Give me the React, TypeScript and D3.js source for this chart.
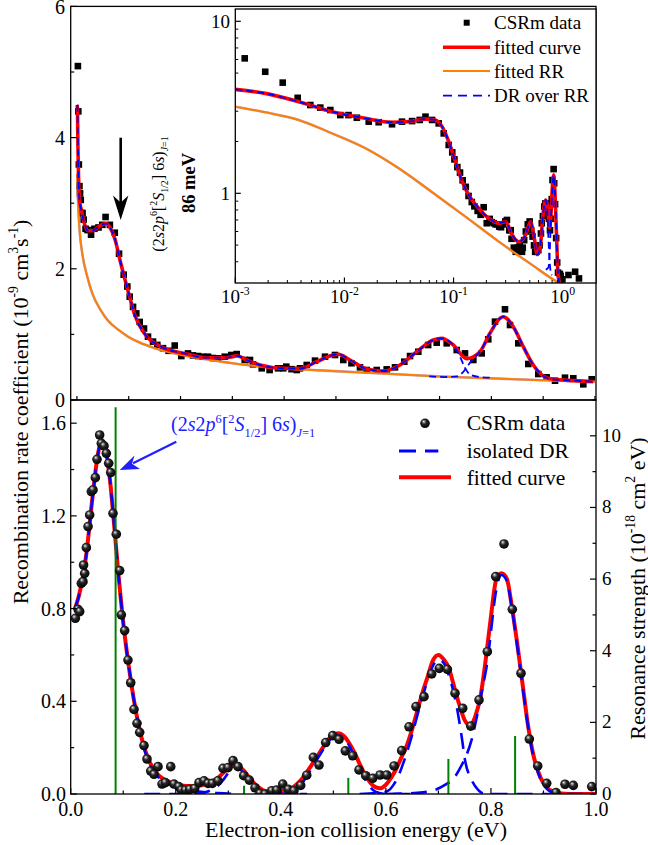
import React from "react";
import * as d3 from "d3";

type P = [number, number];

const FONT = "'Liberation Serif', 'Times New Roman', serif";

// ---------- Top panel / inset data (rate coefficient, 1e-9 cm^3 s^-1) ----------
const csrmTop: P[] = [
  [0.00122, 6.09], [0.00188, 5.09], [0.00272, 4.4], [0.00373, 3.59], [0.00487, 3.26], [0.00601, 3.15],
  [0.00743, 3.05], [0.00917, 2.85], [0.0109, 2.85], [0.013, 2.75], [0.0167, 2.61], [0.0206, 2.59],
  [0.0273, 2.52], [0.0337, 2.61], [0.0417, 2.63], [0.049, 2.67], [0.0553, 2.79], [0.0636, 2.67],
  [0.0731, 2.55], [0.0813, 2.23], [0.0903, 1.91], [0.0973, 1.73], [0.1019, 1.575], [0.1083, 1.42],
  [0.1146, 1.32], [0.1212, 1.19], [0.1295, 1.09], [0.1372, 0.965], [0.1469, 0.89], [0.1552, 0.84],
  [0.1662, 0.79], [0.177, 0.75], [0.1888, 0.83], [0.2015, 0.67], [0.2144, 0.71], [0.224, 0.68],
  [0.2337, 0.67], [0.243, 0.66], [0.253, 0.66], [0.2623, 0.64], [0.2723, 0.635], [0.2853, 0.66],
  [0.298, 0.686], [0.3084, 0.7], [0.3239, 0.61], [0.3341, 0.61], [0.3399, 0.544], [0.3567, 0.483],
  [0.372, 0.457], [0.3882, 0.483], [0.3984, 0.483], [0.4042, 0.508], [0.4143, 0.47], [0.4243, 0.457],
  [0.4306, 0.483], [0.4436, 0.534], [0.4596, 0.6], [0.4789, 0.66], [0.4982, 0.686], [0.5142, 0.61],
  [0.53, 0.56], [0.5464, 0.498], [0.5593, 0.457], [0.5787, 0.457], [0.598, 0.467], [0.614, 0.498],
  [0.632, 0.584], [0.643, 0.67], [0.659, 0.736], [0.678, 0.838], [0.6945, 0.874], [0.7138, 0.864],
  [0.7331, 0.762], [0.7491, 0.711], [0.7652, 0.61], [0.7813, 0.711], [0.794, 0.925], [0.807, 1.194],
  [0.8263, 1.383], [0.836, 1.143], [0.852, 0.864], [0.8713, 0.549], [0.8906, 0.396], [0.9067, 0.346],
  [0.9229, 0.294], [0.9421, 0.34], [0.9582, 0.331], [0.9775, 0.239], [0.9937, 0.316],
  [1.13, 0.335], [1.3, 0.35], [1.41, 0.32],
];

const fittedTop: P[] = [
  [0.0003, 4.5], [0.001, 4.45], [0.002, 3.85], [0.003, 3.45], [0.005, 3.05], [0.009, 2.88], [0.0156, 2.66],
  [0.0214, 2.58], [0.03, 2.58], [0.04, 2.63], [0.05, 2.68], [0.0567, 2.69], [0.0639, 2.63], [0.0735, 2.45],
  [0.0832, 2.13], [0.094, 1.8], [0.1025, 1.55], [0.1115, 1.3], [0.1308, 1.01], [0.1629, 0.81], [0.208, 0.71],
  [0.2505, 0.645], [0.2891, 0.645], [0.3084, 0.675], [0.3277, 0.61], [0.3534, 0.534], [0.3984, 0.483],
  [0.4306, 0.48], [0.4629, 0.584], [0.495, 0.686], [0.5046, 0.697], [0.5271, 0.61], [0.5594, 0.472],
  [0.5914, 0.442], [0.6236, 0.534], [0.6559, 0.736], [0.688, 0.915], [0.7042, 0.94], [0.7265, 0.838],
  [0.7523, 0.63], [0.778, 0.736], [0.7973, 1.017], [0.8167, 1.245], [0.823, 1.27], [0.8423, 1.117],
  [0.8616, 0.813], [0.881, 0.534], [0.9003, 0.366], [0.9196, 0.315], [0.96, 0.295], [0.9968, 0.279],
];

const drOverRrTopA: P[] = [
  ...fittedTop.filter((d) => d[0] <= 0.7265),
  [0.7395, 0.66], [0.7491, 0.49], [0.7587, 0.39], [0.778, 0.35], [0.8, 0.34],
];
const drOverRrTopB: P[] = [
  [0.68, 0.36], [0.71, 0.35], [0.7331, 0.36], [0.7459, 0.43], [0.7555, 0.534], [0.7652, 0.635], [0.778, 0.736],
  ...fittedTop.filter((d) => d[0] > 0.79),
];

const fittedRrTop: P[] = [
  [0.0005, 3.45], [0.002, 3.05], [0.005, 2.6], [0.01, 2.25], [0.02, 1.88], [0.03, 1.62], [0.045, 1.38],
  [0.06, 1.21], [0.08, 1.07], [0.1, 0.96], [0.12, 0.88], [0.15, 0.79], [0.2, 0.69], [0.25, 0.62],
  [0.3, 0.56], [0.4, 0.48], [0.5, 0.44], [0.6, 0.4], [0.7, 0.36], [0.8, 0.33], [0.9, 0.3], [1.0, 0.28],
];

// inset curves (log-log)
const fittedInset: P[] = [
  [0.001, 4.02], [0.00188, 3.81], [0.00381, 3.41], [0.0077, 2.98], [0.0155, 2.73], [0.0273, 2.59],
  [0.0388, 2.61], [0.0553, 2.7], [0.068, 2.67], [0.0785, 2.44], [0.0903, 2.0], [0.104, 1.53], [0.12, 1.17],
  [0.138, 0.977], [0.17, 0.818], [0.21, 0.716], [0.261, 0.67], [0.3, 0.684], [0.344, 0.572], [0.397, 0.523],
  [0.457, 0.572], [0.506, 0.684], [0.544, 0.572], [0.585, 0.44], [0.626, 0.5], [0.66, 0.75], [0.7, 0.914],
  [0.73, 0.82], [0.755, 0.63], [0.78, 0.74], [0.8, 1.02], [0.828, 1.28], [0.85, 1.0], [0.88, 0.55],
  [0.9, 0.37], [0.92, 0.315], [0.96, 0.29], [1.0, 0.28],
];
const drOverRrInsetA: P[] = [
  ...fittedInset.filter((d) => d[0] <= 0.7),
  [0.72, 0.82], [0.74, 0.55], [0.76, 0.4], [0.78, 0.345], [0.8, 0.335],
];
const drOverRrInsetB: P[] = [
  [0.7, 0.36], [0.74, 0.37], [0.76, 0.45], [0.78, 0.7], [0.8, 1.0], [0.828, 1.27], [0.85, 1.0], [0.88, 0.55],
  [0.9, 0.37], [0.92, 0.315], [0.96, 0.29],
];
const fittedRrInset: P[] = [
  [0.001, 3.19], [0.00188, 2.96], [0.00381, 2.67], [0.0077, 2.23], [0.0155, 1.83], [0.0313, 1.4],
  [0.063, 1.02], [0.129, 0.731], [0.261, 0.523], [0.526, 0.383], [0.89, 0.306], [1.0, 0.295],
];

// ---------- Bottom panel ----------
const csrmBottom: P[] = [
  [0.0088, 0.758], [0.0139, 0.797], [0.0171, 0.787], [0.0202, 0.909], [0.0234, 0.916], [0.0266, 0.952],
  [0.0245, 0.988], [0.0298, 1.063], [0.033, 1.154], [0.0361, 1.204], [0.0393, 1.305], [0.0425, 1.312],
  [0.0469, 1.365], [0.0501, 1.444], [0.0551, 1.549], [0.0583, 1.513], [0.0634, 1.502], [0.0678, 1.47],
  [0.0723, 1.427], [0.0761, 1.387], [0.0805, 1.211], [0.0868, 1.121], [0.0932, 0.964], [0.0964, 0.773],
  [0.1027, 0.705], [0.109, 0.578], [0.1142, 0.48], [0.1205, 0.365], [0.1262, 0.305], [0.1313, 0.266],
  [0.1395, 0.209], [0.1452, 0.151], [0.1523, 0.099], [0.1586, 0.085], [0.1662, 0.118], [0.1738, 0.043],
  [0.1801, 0.049], [0.1904, 0.118], [0.1967, 0.043], [0.2056, 0.032], [0.2106, 0.017], [0.2182, 0.017],
  [0.2265, 0.02], [0.236, 0.024], [0.2442, 0.049], [0.2538, 0.057], [0.2614, 0.046], [0.2696, 0.046],
  [0.2804, 0.057], [0.2899, 0.111], [0.2995, 0.114], [0.309, 0.144], [0.3185, 0.118], [0.3293, 0.079],
  [0.34, 0.06], [0.3508, 0.027], [0.3604, 0.003], [0.37, 0.0], [0.3826, 0.014], [0.392, 0.017],
  [0.4036, 0.043], [0.4143, 0.02], [0.425, 0.014], [0.4378, 0.037], [0.4493, 0.081], [0.4619, 0.158],
  [0.4727, 0.125], [0.4854, 0.222], [0.4988, 0.252], [0.5108, 0.236], [0.5228, 0.186], [0.5368, 0.165],
  [0.5488, 0.104], [0.5616, 0.079], [0.5749, 0.068], [0.5888, 0.082], [0.6016, 0.082], [0.6155, 0.121],
  [0.63, 0.187], [0.644, 0.29], [0.6573, 0.377], [0.6726, 0.42], [0.6872, 0.518], [0.7017, 0.542],
  [0.717, 0.538], [0.7316, 0.435], [0.7462, 0.37], [0.7615, 0.293], [0.7773, 0.406], [0.7931, 0.614],
  [0.8091, 0.938], [0.8249, 1.079], [0.8407, 0.797], [0.8572, 0.521], [0.8731, 0.237], [0.889, 0.121],
  [0.9061, 0.046], [0.9238, 0.006], [0.941, 0.042], [0.9568, 0.037], [0.9918, 0.032],
];

const fittedBottom: P[] = [
  [0.008, 0.8], [0.015, 0.85], [0.02, 0.9], [0.025, 0.96], [0.03, 1.04], [0.035, 1.14], [0.04, 1.25],
  [0.045, 1.35], [0.05, 1.44], [0.055, 1.5], [0.06, 1.525], [0.065, 1.5], [0.07, 1.44], [0.075, 1.35],
  [0.08, 1.23], [0.085, 1.1], [0.09, 0.97], [0.095, 0.85], [0.1, 0.74], [0.11, 0.56], [0.12, 0.41],
  [0.13, 0.29], [0.14, 0.2], [0.15, 0.14], [0.16, 0.1], [0.17, 0.075], [0.18, 0.06], [0.19, 0.05],
  [0.2, 0.042], [0.22, 0.035], [0.24, 0.035], [0.26, 0.045], [0.28, 0.07], [0.3, 0.11], [0.31, 0.122],
  [0.32, 0.118], [0.33, 0.1], [0.34, 0.07], [0.35, 0.045], [0.36, 0.025], [0.37, 0.012], [0.38, 0.008],
  [0.39, 0.008], [0.4, 0.012], [0.42, 0.025], [0.44, 0.065], [0.46, 0.13], [0.48, 0.2], [0.49, 0.235],
  [0.5, 0.255], [0.51, 0.262], [0.52, 0.25], [0.53, 0.22], [0.54, 0.18], [0.55, 0.13], [0.56, 0.085],
  [0.57, 0.05], [0.58, 0.03], [0.59, 0.025], [0.6, 0.04], [0.61, 0.07], [0.62, 0.11], [0.63, 0.16],
  [0.64, 0.21], [0.65, 0.28], [0.66, 0.36], [0.67, 0.44], [0.68, 0.51], [0.69, 0.578], [0.7, 0.6],
  [0.71, 0.581], [0.72, 0.542], [0.73, 0.463], [0.74, 0.384], [0.75, 0.319], [0.76, 0.297], [0.77, 0.334],
  [0.78, 0.42], [0.79, 0.578], [0.8, 0.765], [0.81, 0.924], [0.82, 0.952], [0.83, 0.93], [0.84, 0.806],
  [0.85, 0.65], [0.86, 0.478], [0.87, 0.305], [0.88, 0.176], [0.89, 0.096], [0.9, 0.046], [0.91, 0.02],
  [0.92, 0.01], [0.93, 0.003], [0.95, 0.0], [1.0, 0.0],
];

const isolatedDr1: P[] = [
  ...fittedBottom.filter((d) => d[0] <= 0.13),
  [0.14, 0.195], [0.15, 0.13], [0.17, 0.065], [0.2, 0.03], [0.24, 0.012], [0.28, 0.004], [0.32, 0.0],
];
const isolatedDr2: P[] = [
  [0.14, 0.0], [0.22, 0.0], [0.25, 0.005], [0.27, 0.02], [0.28, 0.035], [0.29, 0.06], [0.3, 0.09],
  [0.31, 0.11], [0.32, 0.108], [0.33, 0.09], [0.34, 0.06], [0.35, 0.035], [0.36, 0.015], [0.37, 0.005],
  [0.39, 0.0], [0.45, 0.0],
];
const isolatedDr3: P[] = [
  [0.35, 0.0], [0.4, 0.0], [0.42, 0.01], [0.44, 0.045], [0.46, 0.115], [0.48, 0.19], [0.49, 0.225],
  [0.5, 0.245], [0.51, 0.252], [0.52, 0.24], [0.53, 0.21], [0.54, 0.16], [0.55, 0.11], [0.56, 0.065],
  [0.57, 0.03], [0.58, 0.01], [0.6, 0.0], [0.65, 0.0],
];
const isolatedDr4: P[] = [
  [0.55, 0.0], [0.6, 0.01], [0.62, 0.06], [0.64, 0.18], [0.65, 0.255], [0.66, 0.34], [0.67, 0.42],
  [0.68, 0.495], [0.69, 0.555], [0.7, 0.58], [0.71, 0.565], [0.72, 0.51], [0.7348, 0.377], [0.7443, 0.247],
  [0.7506, 0.147], [0.7633, 0.06], [0.776, 0.017], [0.79, 0.0], [0.93, 0.0],
];
const isolatedDr5: P[] = [
  [0.6, 0.0], [0.66, 0.005], [0.69, 0.015], [0.7125, 0.039], [0.73, 0.07], [0.741, 0.111], [0.7538, 0.17],
  [0.7633, 0.235], [0.7729, 0.33], [0.7824, 0.44], [0.795, 0.6], [0.8, 0.7], [0.81, 0.88], [0.82, 0.945],
  [0.83, 0.92], [0.84, 0.8], [0.85, 0.64], [0.86, 0.47], [0.87, 0.3], [0.88, 0.17], [0.89, 0.09],
  [0.9, 0.04], [0.91, 0.015], [0.92, 0.005], [0.94, 0.0], [1.0, 0.0],
];
const isolatedDr: P[][] = [isolatedDr1, isolatedDr2, isolatedDr3, isolatedDr4, isolatedDr5];

// resonance strengths (1e-18 cm^2 eV)
const resEnergy = [0.0855, 0.33, 0.5285, 0.719, 0.846];
const resStrength = [10.8, 0.23, 0.45, 0.98, 1.62];

// tick labels
const topYTicks = [0, 2, 4, 6];
const botYTicks = [0, 0.4, 0.8, 1.2, 1.6];
const botXTicks = [0, 0.2, 0.4, 0.6, 0.8, 1.0];
const resTicks = [0, 2, 4, 6, 8, 10];
const insetXDecades = [-3, -2, -1, 0];

// ---------- scales ----------
const L = 70.7, R = 596;
const xTop = d3.scaleLinear().domain([-0.012, 1.002]).range([L, R]);
const yTop = d3.scaleLinear().domain([0, 6]).range([400, 6.4]);
const xBot = d3.scaleLinear().domain([0, 1]).range([L, R]);
const yBot = d3.scaleLinear().domain([0, 1.7]).range([794, 400]);
const yRes = d3.scaleLinear().domain([0, 11]).range([794, 400]);
const xIn = d3.scaleLog().domain([1e-3, 2.02]).range([235.3, R]);
const yIn = d3.scaleLog().domain([0.301, 11.79]).range([283, 9]);

const mkLine = (x: any, y: any) =>
  d3.line<P>().x((d) => x(d[0])).y((d) => y(d[1])).curve(d3.curveMonotoneX);

type Part = { t: string; it?: boolean; sup?: boolean; sub?: boolean };
function rich(parts: Part[], fs: number) {
  let cur = 0;
  return parts.map((p, i) => {
    const target = p.sup ? -0.42 * fs : p.sub ? 0.28 * fs : 0;
    const dy = target - cur;
    cur = target;
    return (
      <tspan key={i} dy={dy} fontSize={p.sup || p.sub ? fs * 0.62 : fs} fontStyle={p.it ? "italic" : "normal"}>
        {p.t}
      </tspan>
    );
  });
}

const formula: Part[] = [
  { t: "(2" }, { t: "s", it: true }, { t: "2" }, { t: "p", it: true }, { t: "6", sup: true }, { t: "[" },
  { t: "2", sup: true }, { t: "S", it: true }, { t: "1/2", sub: true }, { t: "] 6" }, { t: "s", it: true },
  { t: ")" }, { t: "J", it: true, sub: true }, { t: "=1", sub: true },
];

export default function App() {
  const lTop = mkLine(xTop, yTop);
  const lIn = mkLine(xIn, yIn);
  const lBot = mkLine(xBot, yBot);

  const insetMinorX: number[] = [];
  for (let e = -3; e <= 0; e++) for (let k = 2; k <= 9; k++) {
    const v = k * Math.pow(10, e);
    if (v < 2.0) insetMinorX.push(v);
  }
  const insetMinorY = [0.4, 0.5, 0.6, 0.7, 0.8, 0.9, 2, 3, 4, 5, 6, 7, 8, 9];

  const stroke = "#000";
  return (
    <svg width={648} height={845} style={{ position: "absolute", left: 0, top: 0, background: "#fff", fontFamily: FONT }}
      fontFamily={FONT}>
      <defs>
        <clipPath id="cTop"><rect x={L} y={6.4} width={R - L} height={400 - 6.4} /></clipPath>
        <clipPath id="cIn"><rect x={235.3} y={9} width={R - 235.3} height={283 - 9} /></clipPath>
        <clipPath id="cBot"><rect x={L} y={400} width={R - L} height={394} /></clipPath>
        <radialGradient id="ball" cx="0.45" cy="0.42" r="0.6" fx="0.36" fy="0.3">
          <stop offset="0%" stopColor="#ffffff" />
          <stop offset="14%" stopColor="#a0a0a0" />
          <stop offset="42%" stopColor="#262626" />
          <stop offset="100%" stopColor="#000000" />
        </radialGradient>
      </defs>
      <rect x={0} y={0} width={648} height={845} fill="#fff" />

      {/* ===== top main panel ===== */}
      <g clipPath="url(#cTop)">
        {csrmTop.map((d, i) => (
          <rect key={i} x={xTop(d[0]) - 3.3} y={yTop(d[1]) - 3.3} width={6.6} height={6.6} fill="#000" />
        ))}
        <path d={lTop(fittedRrTop)!} fill="none" stroke="#8a6fc0" strokeWidth={2.6} opacity={0.6} />
        <path d={lTop(fittedRrTop)!} fill="none" stroke="#ff8000" strokeWidth={2} />
        <path d={lTop(fittedTop)!} fill="none" stroke="#ff0000" strokeWidth={3.6} />
        <path d={lTop(drOverRrTopA)!} fill="none" stroke="#0000ff" strokeWidth={1.8} strokeDasharray="7,4" />
        <path d={lTop(drOverRrTopB)!} fill="none" stroke="#0000ff" strokeWidth={1.8} strokeDasharray="7,4" />
      </g>
      {/* top frame */}
      <rect x={L} y={6.4} width={R - L} height={400 - 6.4} fill="none" stroke={stroke} strokeWidth={1.3} />
      {d3.range(0, 7).map((v) => (
        <line key={v} x1={L} x2={L + (v % 2 === 0 ? 6 : 3.5)} y1={yTop(v)} y2={yTop(v)} stroke={stroke} strokeWidth={1.2} />
      ))}
      {topYTicks.map((v) => (
        <text key={v} x={65} y={yTop(v) + (v === 6 ? 8 : 7)} fontSize={20} textAnchor="end">{v}</text>
      ))}
      {d3.range(0, 11).map((i) => (
        <line key={i} x1={xTop(i / 10)} x2={xTop(i / 10)} y1={400} y2={396} stroke={stroke} strokeWidth={1.2} />
      ))}

      {/* arrow + rotated annotation */}
      <line x1={120.7} x2={120.7} y1={137.7} y2={205} stroke="#000" strokeWidth={2.6} />
      <path d="M120.7,220 L113,195.5 L120.7,202.5 L128.4,195.5 Z" fill="#000" />
      <text transform="translate(164,194) rotate(-90)" textAnchor="middle" fontSize={16}>
        {rich(formula, 16)}
      </text>
      <text transform="translate(194.5,183) rotate(-90)" textAnchor="middle" fontSize={18.5} fontWeight="bold">
        86 meV
      </text>

      {/* ===== inset ===== */}
      <rect x={235.3} y={9} width={R - 235.3} height={283 - 9} fill="#fff" />
      <g clipPath="url(#cIn)">
        {csrmTop.map((d, i) => (
          <rect key={i} x={xIn(d[0]) - 3.3} y={yIn(d[1]) - 3.3} width={6.6} height={6.6} fill="#000" />
        ))}
        <path d={lIn(fittedRrInset)!} fill="none" stroke="#8a6fc0" strokeWidth={2.6} opacity={0.6} />
        <path d={lIn(fittedRrInset)!} fill="none" stroke="#ff8000" strokeWidth={2} />
        <path d={lIn(fittedInset)!} fill="none" stroke="#ff0000" strokeWidth={3.6} />
        <path d={lIn(drOverRrInsetA)!} fill="none" stroke="#0000ff" strokeWidth={1.8} strokeDasharray="7,4" />
        <path d={lIn(drOverRrInsetB)!} fill="none" stroke="#0000ff" strokeWidth={1.8} strokeDasharray="7,4" />
      </g>
      <rect x={235.3} y={9} width={R - 235.3} height={283 - 9} fill="none" stroke={stroke} strokeWidth={1.3} />
      {insetXDecades.map((e) => (
        <line key={e} x1={xIn(Math.pow(10, e))} x2={xIn(Math.pow(10, e))} y1={283} y2={277.5} stroke={stroke} strokeWidth={1.2} />
      ))}
      {insetMinorX.map((v, i) => (
        <line key={i} x1={xIn(v)} x2={xIn(v)} y1={283} y2={280} stroke={stroke} strokeWidth={1} />
      ))}
      {[1, 10].map((v) => (
        <line key={v} x1={235.3} x2={240.8} y1={yIn(v)} y2={yIn(v)} stroke={stroke} strokeWidth={1.2} />
      ))}
      {insetMinorY.map((v, i) => (
        <line key={i} x1={235.3} x2={238.3} y1={yIn(v)} y2={yIn(v)} stroke={stroke} strokeWidth={1} />
      ))}
      {insetXDecades.map((e) => (
        <text key={e} x={xIn(Math.pow(10, e))} y={303} fontSize={19} textAnchor="middle">
          {rich([{ t: "10" }, { t: String(e), sup: true }], 19)}
        </text>
      ))}
      <text x={230} y={yIn(10) + 7} fontSize={19} textAnchor="end">10</text>
      <text x={230} y={yIn(1) + 7} fontSize={19} textAnchor="end">1</text>

      {/* inset legend */}
      <rect x={466.7 - 3} y={22.7 - 3} width={6} height={6} fill="#000" />
      <text x={494} y={28.8} fontSize={19}>CSRm data</text>
      <line x1={443} x2={490} y1={47.3} y2={47.3} stroke="#ff0000" strokeWidth={3.6} />
      <text x={494} y={53.5} fontSize={19}>fitted curve</text>
      <line x1={443} x2={490} y1={71} y2={71} stroke="#ff8000" strokeWidth={2} />
      <text x={494} y={77.5} fontSize={19}>fitted RR</text>
      <line x1={443} x2={490} y1={95.7} y2={95.7} stroke="#0000ff" strokeWidth={1.8} strokeDasharray="9,6" />
      <text x={494} y={101.5} fontSize={19}>DR over RR</text>

      {/* ===== bottom panel ===== */}
      <g clipPath="url(#cBot)">
        <path d={lBot(fittedBottom)!} fill="none" stroke="#ff0000" strokeWidth={4} />
        {isolatedDr.map((c, i) => (
          <path key={i} d={lBot(c)!} fill="none" stroke="#0000ff" strokeWidth={2.6} strokeDasharray="16,9" />
        ))}
        {resEnergy.map((e, i) => (
          <line key={i} x1={xBot(e)} x2={xBot(e)} y1={yRes(0)} y2={yRes(resStrength[i])} stroke="#008000" strokeWidth={2} />
        ))}
        {csrmBottom.map((d, i) => (
          <circle key={i} cx={xBot(d[0])} cy={yBot(d[1])} r={4.8} fill="url(#ball)" />
        ))}
      </g>
      <rect x={L} y={400} width={R - L} height={394} fill="none" stroke={stroke} strokeWidth={1.3} />
      {d3.range(0, 9).map((i) => (
        <line key={i} x1={L} x2={L + (i % 2 === 0 ? 6 : 3.5)} y1={yBot(i * 0.2)} y2={yBot(i * 0.2)} stroke={stroke} strokeWidth={1.2} />
      ))}
      {botYTicks.map((v) => (
        <text key={v} x={66} y={yBot(v) + 7} fontSize={20} textAnchor="end">{v.toFixed(1)}</text>
      ))}
      {d3.range(0, 11).map((i) => (
        <line key={i} x1={xBot(i / 10)} x2={xBot(i / 10)} y1={794} y2={794 - (i % 2 === 0 ? 6 : 3.5)} stroke={stroke} strokeWidth={1.2} />
      ))}
      {botXTicks.map((v) => (
        <text key={v} x={xBot(v)} y={815.5} fontSize={20} textAnchor="middle">{v.toFixed(1)}</text>
      ))}
      {d3.range(0, 12).map((v) => (
        <line key={v} x1={R} x2={R - (v % 2 === 0 ? 6 : 3.5)} y1={yRes(v)} y2={yRes(v)} stroke={stroke} strokeWidth={1.2} />
      ))}
      {resTicks.map((v) => (
        <text key={v} x={602} y={yRes(v) + 6} fontSize={19}>{v}</text>
      ))}

      {/* bottom legend */}
      <circle cx={425} cy={423.3} r={4.8} fill="url(#ball)" />
      <text x={466.7} y={430} fontSize={21.5}>CSRm data</text>
      <line x1={399} x2={438.3} y1={451} y2={451} stroke="#0000ff" strokeWidth={2.8} strokeDasharray="17,9" />
      <text x={466.7} y={458.3} fontSize={21.5}>isolated DR</text>
      <line x1={399} x2={451} y1={477.3} y2={477.3} stroke="#ff0000" strokeWidth={4} />
      <text x={466.7} y={485} fontSize={21.5}>fitted curve</text>

      {/* bottom annotation */}
      <text x={171} y={431} fontSize={20} fill="#2020ff">{rich(formula, 20)}</text>
      <line x1={176.3} y1={441.7} x2={133} y2={463.3} stroke="#2020ff" strokeWidth={2.2} />
      <path d="M119.7,470 L134.5,455.5 L132,463.8 L140,469 Z" fill="#2020ff" />

      {/* axis titles */}
      <text transform="translate(27.5,412) rotate(-90)" textAnchor="middle" fontSize={22}>
        {rich([{ t: "Recombination rate coefficient (10" }, { t: "-9", sup: true }, { t: " cm" }, { t: "3", sup: true },
          { t: "s" }, { t: "-1", sup: true }, { t: ")" }], 22)}
      </text>
      <text transform="translate(644.5,588.5) rotate(-90)" textAnchor="middle" fontSize={22}>
        {rich([{ t: "Resonance strength (10" }, { t: "-18", sup: true }, { t: " cm" }, { t: "2", sup: true },
          { t: " eV)" }], 22)}
      </text>
      <text x={356} y={837} fontSize={22} textAnchor="middle">Electron-ion collision energy (eV)</text>
    </svg>
  );
}
